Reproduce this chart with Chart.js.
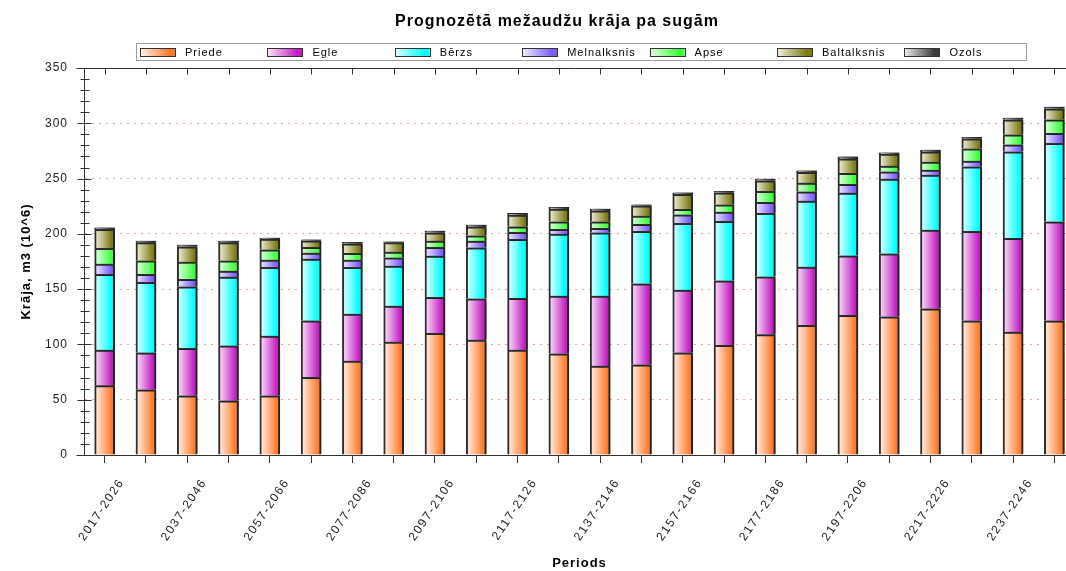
<!DOCTYPE html>
<html lang="lv">
<head>
<meta charset="utf-8">
<title>Prognozētā mežaudžu krāja pa sugām</title>
<script src="https://cdn.jsdelivr.net/npm/chart.js@4.4.1/dist/chart.umd.min.js"></script>
<style>
    html, body { margin: 0; padding: 0; background: #fff; overflow: hidden; }
    #wrap { width: 1090px; height: 571px; }
</style>
</head>
<body>
<div id="wrap"><canvas id="chart" width="1090" height="571"></canvas></div>
<script>
// Periods (10-year steps)
const periods = [
    '2017-2026', '2027-2036', '2037-2046', '2047-2056', '2057-2066', '2067-2076',
    '2077-2086', '2087-2096', '2097-2106', '2107-2116', '2117-2126', '2127-2136',
    '2137-2146', '2147-2156', '2157-2166', '2167-2176', '2177-2186', '2187-2196',
    '2197-2206', '2207-2216', '2217-2226', '2227-2236', '2237-2246', '2247-2256'
];

// Growing stock by species, m3 (10^6)
const priede = [62.7, 59.0, 53.6, 49.1, 53.6, 70.3, 85.0, 102.2, 110.0, 104.0, 94.9, 91.6,
    80.5, 81.6, 92.5, 99.2, 108.8, 117.3, 126.3, 125.0, 132.3, 121.4, 111.2, 121.4];
const egle = [32.2, 33.5, 42.9, 49.7, 54.0, 51.1, 42.5, 32.5, 32.6, 37.3, 46.8, 52.2,
    63.3, 73.3, 56.7, 58.4, 52.4, 52.7, 53.9, 57.0, 71.1, 80.9, 84.7, 89.5];
const berzs = [68.5, 63.7, 55.7, 62.1, 62.1, 55.8, 42.2, 36.2, 37.3, 46.1, 53.3, 56.0,
    57.2, 47.4, 60.3, 53.7, 57.3, 59.7, 56.7, 67.5, 49.8, 58.4, 78.3, 70.9];
const melnalksnis = [9.3, 7.2, 6.7, 5.5, 6.6, 5.4, 6.6, 7.5, 7.9, 6.1, 6.4, 4.3,
    4.0, 6.3, 7.8, 8.4, 10.0, 8.4, 7.9, 6.6, 4.5, 5.1, 6.4, 9.1];
const apse = [14.2, 12.3, 15.6, 9.3, 9.3, 5.2, 6.1, 5.1, 5.7, 4.8, 5.0, 6.8,
    5.9, 7.5, 4.9, 6.6, 9.9, 7.8, 9.9, 5.2, 7.2, 11.1, 9.0, 12.3];
const baltalksnis = [17.2, 16.3, 13.8, 16.3, 9.7, 6.0, 8.6, 8.5, 7.5, 8.1, 10.6, 11.5,
    10.0, 9.3, 13.5, 10.9, 9.6, 9.7, 13.2, 10.9, 9.3, 9.1, 13.6, 9.9];
const ozols = [1.4, 1.5, 1.6, 1.5, 0.9, 0.9, 1.3, 0.9, 1.5, 1.6, 1.5, 1.6,
    1.5, 0.9, 1.5, 1.2, 1.5, 1.5, 1.8, 1.1, 1.6, 1.3, 1.5, 1.5];

const speciesNames = ['Priede', 'Egle', 'Bērzs', 'Melnalksnis', 'Apse', 'Baltalksnis', 'Ozols'];
const speciesData = [priede, egle, berzs, melnalksnis, apse, baltalksnis, ozols];

// Gradient colours (left -> right) for each species
const lightColors = ['#fff4ec', '#fbe6fb', '#e6ffff', '#f2f0ff', '#e8ffe8', '#f4f2e2', '#eeeeee'];
const darkColors = ['#ff7b2c', '#c21fc2', '#00ffff', '#7a5cff', '#3cff3c', '#7d7a18', '#3a3a3a'];

const BAR_WIDTH = 20;
const FONT = '"Liberation Sans", Arial, sans-serif';

/**
 * Horizontal gradient for one bar segment, placed on the category pixel
 */
function barGradient(i) {
    return (c) => {
        const chart = c.chart;
        const xs = chart.scales.x;
        if (!xs || c.dataIndex === undefined || !chart.chartArea) return darkColors[i];
        const cx = xs.getPixelForValue(c.dataIndex);
        const g = chart.ctx.createLinearGradient(cx - BAR_WIDTH / 2, 0, cx + BAR_WIDTH / 2, 0);
        g.addColorStop(0, lightColors[i]);
        g.addColorStop(0.85, darkColors[i]);
        g.addColorStop(1, darkColors[i]);
        return g;
    };
}

/**
 * Title, boxed legend and axis tick marks
 */
const decorPlugin = {
    id: 'decor',
    beforeUpdate(chart) { chart.ctx.letterSpacing = '1px'; },
    beforeDraw(chart) { chart.ctx.letterSpacing = '1px'; },
    beforeDatasetsDraw(chart) {
        const ctx = chart.ctx;
        ctx.save();
        ctx.shadowColor = 'rgba(0,0,0,0.28)';
        ctx.shadowOffsetX = 2;
        ctx.shadowOffsetY = -1;
        ctx.shadowBlur = 1;
    },
    afterDatasetsDraw(chart) {
        chart.ctx.restore();
        // x tick labels are drawn after this (z: 1), a bit wider spaced
        chart.ctx.letterSpacing = '1.6px';
    },
    afterDraw(chart) {
        const ctx = chart.ctx;
        const { left, right, top, bottom } = chart.chartArea;
        const xs = chart.scales.x;
        const ys = chart.scales.y;

        ctx.save();
        ctx.letterSpacing = '1px';

        // Title
        ctx.fillStyle = '#000';
        ctx.font = 'bold 16px ' + FONT;
        ctx.textAlign = 'center';
        ctx.textBaseline = 'middle';
        ctx.fillText('Prognozētā mežaudžu krāja pa sugām', 557, 22);

        // Legend box
        ctx.strokeStyle = '#9a9a9a';
        ctx.lineWidth = 1;
        ctx.strokeRect(136.5, 43.5, 890, 17);
        ctx.font = '11px ' + FONT;
        ctx.textAlign = 'left';
        speciesNames.forEach((name, i) => {
            const x = 140 + i * 127.4;
            const g = ctx.createLinearGradient(x, 0, x + 35, 0);
            g.addColorStop(0, lightColors[i]);
            g.addColorStop(0.85, darkColors[i]);
            g.addColorStop(1, darkColors[i]);
            ctx.fillStyle = g;
            ctx.fillRect(x, 48, 35, 8);
            ctx.strokeStyle = '#333';
            ctx.strokeRect(Math.round(x) + 0.5, 48.5, 35, 8);
            ctx.fillStyle = '#000';
            ctx.fillText(name, x + 45, 53);
        });

        // Axis tick marks
        ctx.strokeStyle = '#333';
        ctx.lineWidth = 1;
        ctx.beginPath();
        const ax = Math.round(left) + 0.5;
        for (let v = 0; v <= 350; v += 10) {
            const y = Math.round(ys.getPixelForValue(v)) + 0.5;
            const major = v % 50 === 0;
            ctx.moveTo(ax - (major ? 7 : 4), y);
            ctx.lineTo(ax + (major ? 7 : 5), y);
        }
        // top frame line with inward ticks
        const ty = Math.round(top) + 0.5;
        ctx.moveTo(ax - 8, ty);
        ctx.lineTo(right, ty);
        periods.forEach((p, i) => {
            const x = Math.round(xs.getPixelForValue(i)) + 0.5;
            ctx.moveTo(x, ty);
            ctx.lineTo(x, ty + 6);
        });
        // bottom axis extension to the left
        const by = Math.round(bottom) + 0.5;
        ctx.moveTo(ax - 8, by);
        ctx.lineTo(ax, by);
        ctx.stroke();
        ctx.restore();
    }
};

const chart = new Chart(document.getElementById('chart'), {
    type: 'bar',
    data: {
        labels: periods,
        datasets: speciesNames.map((name, i) => ({
            label: name,
            data: speciesData[i],
            backgroundColor: barGradient(i),
            borderColor: '#2e2e2e',
            borderWidth: 2,
            barThickness: BAR_WIDTH
        }))
    },
    options: {
        responsive: false,
        animation: false,
        layout: {
            padding: { top: 68, right: 15, left: 0, bottom: 0 }
        },
        plugins: {
            legend: { display: false },
            title: { display: false },
            tooltip: { enabled: false }
        },
        scales: {
            x: {
                stacked: true,
                afterFit(scale) { scale.height = 116; },
                grid: {
                    offset: false,
                    drawOnChartArea: false,
                    drawTicks: true,
                    tickLength: 8,
                    tickColor: '#333'
                },
                border: { display: true, color: '#333', width: 1 },
                ticks: {
                    z: 1,
                    autoSkip: false,
                    minRotation: 56,
                    maxRotation: 56,
                    padding: 13,
                    labelOffset: 17,
                    color: '#222',
                    font: { family: FONT, size: 12 },
                    callback(value, index) {
                        return index % 2 === 0 ? this.getLabelForValue(value) : '';
                    }
                },
                title: {
                    display: true,
                    text: 'Periods',
                    color: '#000',
                    font: { family: FONT, size: 13, weight: 'bold' },
                    padding: { top: 0, bottom: 0 }
                }
            },
            y: {
                stacked: true,
                min: 0,
                max: 350,
                afterFit(scale) { scale.width = 84; },
                grid: {
                    drawTicks: false,
                    color(c) {
                        const v = c.tick ? c.tick.value : 0;
                        return (v === 0 || v === 350) ? 'rgba(0,0,0,0)' : '#e2a6a6';
                    }
                },
                border: { display: true, color: '#333', width: 1, dash: [2, 5] },
                ticks: {
                    stepSize: 50,
                    padding: 16,
                    color: '#222',
                    font: { family: FONT, size: 12 }
                },
                title: {
                    display: true,
                    text: 'Krāja, m3 (10^6)',
                    color: '#000',
                    font: { family: FONT, size: 13, weight: 'bold' },
                    padding: { top: 19, bottom: 0 }
                }
            }
        }
    },
    plugins: [decorPlugin]
});
</script>
</body>
</html>
